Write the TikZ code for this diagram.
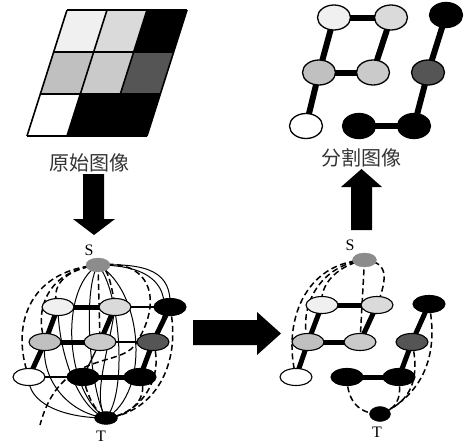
\documentclass[tikz,border=0pt]{standalone}
\usepackage{fontspec}
\newfontfamily\cjkfont{Noto Sans CJK SC}
\newfontfamily\serifLat{Liberation Serif}
\usetikzlibrary{shapes.geometric}
\pgfdeclarelayer{bg}
\pgfsetlayers{bg,main}
\definecolor{gA}{HTML}{F0F0F0}
\definecolor{gB}{HTML}{DADADA}
\definecolor{gC}{HTML}{C0C0C0}
\definecolor{gD}{HTML}{CACACA}
\definecolor{gE}{HTML}{555555}
\definecolor{gS}{HTML}{8C8C8C}
\begin{document}
\begin{tikzpicture}[x=1pt,y=-1pt,
  gl/.style={line width=1.6pt},
  gn/.style={ellipse,draw=black,line width=1.1pt,inner sep=0pt,minimum width=32pt,minimum height=17pt},
  pn/.style={ellipse,draw=black,line width=1.3pt,inner sep=0pt,minimum width=33pt,minimum height=25pt},
  sn/.style={ellipse,inner sep=0pt,fill=gS,draw=gS,minimum width=24pt,minimum height=14pt},
  tn/.style={ellipse,inner sep=0pt,fill=black,draw=black,minimum width=23pt,minimum height=13pt},
  strong/.style={line width=5pt},
  pstrong/.style={line width=6pt},
  weak/.style={line width=1.3pt},
  term/.style={line width=1pt},
  tdash/.style={line width=1.5pt,dash pattern=on 6pt off 3.5pt},
  lbl/.style={font=\serifLat\fontsize{16}{16}\selectfont,inner sep=0pt},
  capt/.style={font=\cjkfont\fontsize{20}{20}\selectfont,text=black!80,inner sep=0pt},
  blockarrow/.style={fill=black}]
\useasboundingbox (0,0) rectangle (469,447);

% ---------- original image grid ----------
\foreach \i/\j/\c in {0/0/gA,1/0/gB,2/0/black,0/1/gC,1/1/gD,2/1/gE,0/2/white,1/2/black,2/2/black}
  \fill[fill=\c] ({67+40*\i-13.333*\j},{10+42*\j}) -- ++(40,0) -- ++(-13.333,42) -- ++(-40,0) -- cycle;
\foreach \j in {0,...,3} \draw[gl] ({67-13.333*\j},{10+42*\j}) -- ++(120,0);
\foreach \i in {0,...,3} \draw[gl] ({67+40*\i},10) -- ++(-40,126);
\node[capt] (capA) at (89,163) {原始图像};

% ---------- block arrows ----------
\fill[blockarrow] (83,174) -- (104,174) -- (104,219) -- (115,219) -- (94,235) -- (73,219) -- (83,219) -- cycle;
\fill[blockarrow] (193,320) -- (257,320) -- (257,312) -- (281,333.5) -- (257,355) -- (257,345) -- (193,345) -- cycle;
\fill[blockarrow] (351,230) -- (372,230) -- (372,187) -- (382,187) -- (361.5,169) -- (341,187) -- (351,187) -- cycle;

% ---------- segmented image ----------
\node[pn,fill=gA] (P11) at (334,17.5) {};
\node[pn,fill=gB] (P12) at (391,17.5) {};
\node[pn,fill=black] (P13) at (446,15) {};
\node[pn,fill=gC] (P21) at (319,72.5) {};
\node[pn,fill=gD] (P22) at (373,72.5) {};
\node[pn,fill=gE] (P23) at (428,72.5) {};
\node[pn,fill=white] (P31) at (306,126) {};
\node[pn,fill=black] (P32) at (359,126) {};
\node[pn,fill=black] (P33) at (414,126) {};
\begin{pgfonlayer}{bg}
  \draw[pstrong] (P11.center) -- (P12.center);
  \draw[pstrong] (P21.center) -- (P22.center);
  \draw[pstrong] (P32.center) -- (P33.center);
  \draw[pstrong] (P31.center) -- (P21.center) -- (P11.center);
  \draw[pstrong] (P22.center) -- (P12.center);
  \draw[pstrong] (P33.center) -- (P23.center) -- (P13.center);
\end{pgfonlayer}
\node[capt] (capB) at (361,157.5) {分割图像};

% ---------- left graph ----------
\node[lbl] (LSl) at (89,250) {S};
\node[sn] (LS) at (98,265) {};
\node[gn,fill=gA] (L11) at (58,307) {};
\node[gn,fill=gB] (L12) at (115,307) {};
\node[gn,fill=black] (L13) at (170,307) {};
\node[gn,fill=gC] (L21) at (45,342) {};
\node[gn,fill=gD] (L22) at (100,342) {};
\node[gn,fill=gE] (L23) at (153,342) {};
\node[gn,fill=white] (L31) at (29,377) {};
\node[gn,fill=black] (L32) at (83,377) {};
\node[gn,fill=black] (L33) at (140,377) {};
\node[tn] (LT) at (106,418) {};
\node[lbl] (LTl) at (101,436) {T};
\coordinate (Lx) at (40,425);
\begin{pgfonlayer}{bg}
  % grid edges
  \draw[strong] (L11.center) -- (L12.center);
  \draw[strong] (L21.center) -- (L22.center);
  \draw[strong] (L32.center) -- (L33.center);
  \draw[strong] (L31.center) -- (L21.center) -- (L11.center);
  \draw[strong] (L22.center) -- (L12.center);
  \draw[strong] (L33.center) -- (L23.center) -- (L13.center);
  \draw[weak] (L12.center) -- (L13.center);
  \draw[weak] (L22.center) -- (L23.center);
  \draw[weak] (L31.center) -- (L32.center);
  \draw[weak] (L32.center) -- (L22.center);
  % solid meridians
  \foreach \a in {-40,-16,22,45}
    \draw[term] (LS.center) .. controls +(\a,25) and +(\a,-25) .. (LT.center);
  \draw[term] (LS.center) .. controls +(50,-2) and +(2,-35) .. (L13.center);
  \draw[term] (LS.center) .. controls +(70,0) and +(22,-40) .. (L23.center);
  \draw[term] (LT.center) .. controls +(-45,0) and +(-2,25) .. (L31.center);
  \draw[term] (LT.center) .. controls +(-40,-5) and +(-5,35) .. (L21.center);
  \draw[term] (LT.center) .. controls +(-30,-10) and +(0,40) .. (L11.center);
  \draw[term] (LT.center) .. controls +(-15,-20) and +(-5,40) .. (L12.center);
  % dashed source links
  \draw[tdash] (LS.center) .. controls +(-35,5) and +(-8,-20) .. (L11.center);
  \draw[tdash] (LS.center) .. controls +(-48,5) and +(-12,-35) .. (L21.center);
  \draw[tdash] (LS.center) .. controls +(-72,6) and +(-18,-48) .. (L31.center);
  \draw[tdash] (LS.center) .. controls +(10,0) and +(-3,-20) .. (L12.center);
  \draw[tdash] (LS.center) -- (L22.center);
  \draw[tdash] (LS.center) .. controls (150,258) and (165,300) .. (135,345)
                .. controls (118,368) and (60,350) .. (Lx);
  % dashed sink links
  \draw[tdash] (L13.center) .. controls +(12,58) and +(48,-5) .. (LT.center);
  \draw[tdash] (L23.center) .. controls +(12,35) and +(35,-3) .. (LT.center);
  \draw[tdash] (L33.center) .. controls +(10,20) and +(25,-2) .. (LT.center);
  \draw[tdash] (L32.center) .. controls +(5,20) and +(-12,-8) .. (LT.center);
\end{pgfonlayer}

% ---------- right graph ----------
\node[lbl] (RSl) at (350,245) {S};
\node[sn] (RS) at (364.5,260) {};
\node[gn,fill=gA] (R11) at (322,305) {};
\node[gn,fill=gB] (R12) at (377,305) {};
\node[gn,fill=black] (R13) at (429,304) {};
\node[gn,fill=gC] (R21) at (308,342) {};
\node[gn,fill=gD] (R22) at (360,342) {};
\node[gn,fill=gE] (R23) at (412,342) {};
\node[gn,fill=white] (R31) at (296,377) {};
\node[gn,fill=black] (R32) at (347,377) {};
\node[gn,fill=black] (R33) at (399,377) {};
\node[tn,minimum width=21pt,minimum height=15pt] (RT) at (380,414) {};
\node[lbl] (RTl) at (377,432) {T};
\begin{pgfonlayer}{bg}
  \draw[strong] (R11.center) -- (R12.center);
  \draw[strong] (R21.center) -- (R22.center);
  \draw[strong] (R32.center) -- (R33.center);
  \draw[strong] (R31.center) -- (R21.center) -- (R11.center);
  \draw[strong] (R22.center) -- (R12.center);
  \draw[strong] (R33.center) -- (R23.center) -- (R13.center);
  \draw[tdash] (RS.center) .. controls +(-25,5) and +(-3,-22) .. (R11.center);
  \draw[tdash] (RS.center) .. controls +(-45,5) and +(-10,-35) .. (R21.center);
  \draw[tdash] (RS.center) .. controls +(-60,3) and +(-14,-55) .. (R31.center);
  \draw[tdash] (RS.center) .. controls +(22,2) and +(12,-30) .. (R12.center);
  \draw[tdash] (RS.center) -- (R22.center);
  \draw[tdash] (R32.center) .. controls +(0,25) and +(-20,0) .. (RT.center);
  \draw[tdash] (R33.center) .. controls +(3,25) and +(15,-5) .. (RT.center);
  \draw[tdash] (R23.center) .. controls +(10,45) and +(25,-10) .. (RT.center);
  \draw[tdash] (R13.center) .. controls +(12,60) and +(35,-15) .. (RT.center);
\end{pgfonlayer}
\end{tikzpicture}
\end{document}
